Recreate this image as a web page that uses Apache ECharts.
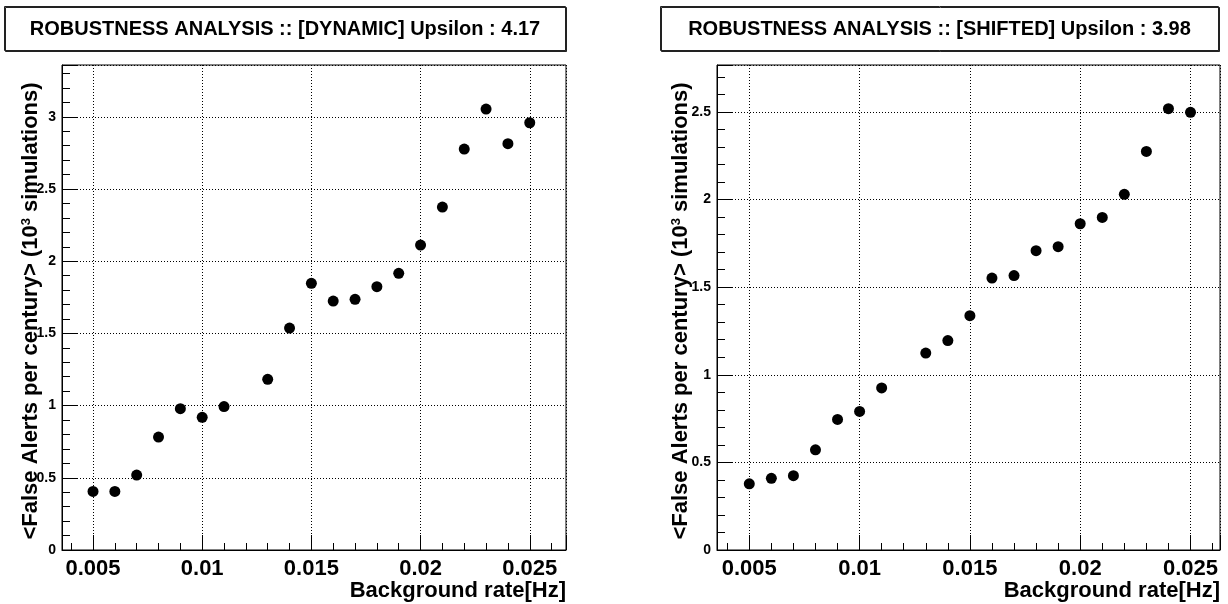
<!DOCTYPE html>
<html>
<head>
<meta charset="utf-8">
<script src="https://cdn.jsdelivr.net/npm/echarts@6/dist/echarts.min.js"></script>
<style>
html,body{margin:0;padding:0;background:#fff;}
#chart{width:1228px;height:604px;}
</style>
</head>
<body>
<div id="chart"></div>
<script>
// ---- data ----
const titles = [
  'ROBUSTNESS ANALYSIS :: [DYNAMIC] Upsilon : 4.17',
  'ROBUSTNESS ANALYSIS :: [SHIFTED] Upsilon : 3.98'
];
const xTitle = 'Background rate[Hz]';
const yTitle = '<False Alerts per century> (10{sup|3} simulations)';
const bgRate = [0.005, 0.006, 0.007, 0.008, 0.009, 0.010, 0.011, 0.013, 0.014, 0.015,
                0.016, 0.017, 0.018, 0.019, 0.020, 0.021, 0.022, 0.023, 0.024, 0.025];
const dynamicAlerts = [0.406, 0.406, 0.519, 0.782, 0.979, 0.919, 0.993, 1.182, 1.537, 1.847,
                       1.724, 1.736, 1.824, 1.916, 2.112, 2.375, 2.777, 3.054, 2.814, 2.959];
const shiftedAlerts = [0.378, 0.409, 0.424, 0.572, 0.745, 0.791, 0.925, 1.124, 1.195, 1.337,
                       1.552, 1.566, 1.708, 1.731, 1.862, 1.898, 2.030, 2.275, 2.519, 2.498];
const xRanges = [[0.00358, 0.02666], [0.003536, 0.026337]];
const yRanges = [[0, 3.359], [0, 2.768]];

// ---- chart ----
const FONT = '"Liberation Sans", Arial, Helvetica, sans-serif';
const chart = echarts.init(document.getElementById('chart'), null, {renderer: 'canvas'});

function pairs(xs, ys) { return xs.map((x, i) => [x, ys[i]]); }

const grids = [
  {left: 62, top: 65, width: 504, height: 485},
  {left: 717, top: 65, width: 503, height: 485}
];
const yNameGaps = [20, 25];

function xAxis(i) {
  return {
    type: 'value', gridIndex: i,
    min: xRanges[i][0], max: xRanges[i][1],
    minInterval: 0.005, maxInterval: 0.005,
    axisLine: {show: true, onZero: false, lineStyle: {color: '#000', width: 1}},
    axisTick: {show: true, inside: true, length: 15, lineStyle: {color: '#000'}},
    minorTick: {show: true, splitNumber: 5, length: 7, lineStyle: {color: '#000'}},
    axisLabel: {
      show: true, showMinLabel: false, showMaxLabel: false,
      color: '#000', fontFamily: FONT, fontWeight: 'bold', fontSize: 22, margin: 8
    },
    splitLine: {show: true, lineStyle: {color: '#000', width: 1, type: [1, 2]}}
  };
}

function yAxis(i) {
  return {
    type: 'value', gridIndex: i,
    min: yRanges[i][0], max: yRanges[i][1], interval: 0.5,
    axisLine: {show: true, lineStyle: {color: '#000', width: 1}},
    axisTick: {show: true, inside: true, length: 15, lineStyle: {color: '#000'}},
    minorTick: {show: true, splitNumber: 5, length: 8, lineStyle: {color: '#000'}},
    axisLabel: {
      show: true, showMaxLabel: false,
      color: '#000', fontFamily: FONT, fontWeight: 'bold', fontSize: 14, margin: 6
    },
    splitLine: {show: true, lineStyle: {color: '#000', width: 1, type: [1, 2]}},
    name: yTitle, nameLocation: 'middle', nameRotate: 90, nameGap: yNameGaps[i],
    nameMoveOverlap: false,
    nameTextStyle: {
      color: '#000', fontFamily: FONT, fontWeight: 'bold', fontSize: 22,
      padding: [0, 7, 0, 0],
      rich: {sup: {fontSize: 13, fontFamily: FONT, fontWeight: 'bold', color: '#000', verticalAlign: 'top'}}
    }
  };
}

const boxes = [
  {x: 4.5, y: 6.5, w: 561, h: 44},
  {x: 660.5, y: 6.5, w: 558, h: 44}
];
const graphic = [];
boxes.forEach((b, i) => {
  graphic.push({
    type: 'rect', z: 10,
    shape: {x: b.x, y: b.y, width: b.w, height: b.h},
    style: {fill: '#fff', stroke: '#222', lineWidth: 1,
            shadowColor: '#222', shadowOffsetX: 1, shadowOffsetY: 1, shadowBlur: 0}
  });
  graphic.push({
    type: 'text', z: 11,
    x: b.x + b.w / 2, y: b.y + b.h / 2 + 1,
    style: {text: titles[i], fill: '#000', font: 'bold 20px ' + FONT,
            align: 'center', verticalAlign: 'middle'}
  });
});
// x-axis titles, right-aligned at the right end of each frame
grids.forEach(g => {
  graphic.push({
    type: 'text', z: 11,
    x: g.left + g.width, y: g.top + g.height + 41,
    style: {text: xTitle, fill: '#000', font: 'bold 22px ' + FONT,
            align: 'right', verticalAlign: 'middle'}
  });
});

const option = {
  backgroundColor: '#fff',
  animation: false,
  grid: grids.map(g => Object.assign({show: true, borderColor: '#000', borderWidth: 1,
                                      backgroundColor: 'transparent', outerBoundsMode: 'none',
                                      containLabel: false}, g)),
  xAxis: [xAxis(0), xAxis(1)],
  yAxis: [yAxis(0), yAxis(1)],
  graphic: graphic,
  series: [
    {type: 'scatter', xAxisIndex: 0, yAxisIndex: 0, symbol: 'circle', symbolSize: 11,
     itemStyle: {color: '#000', opacity: 1}, data: pairs(bgRate, dynamicAlerts)},
    {type: 'scatter', xAxisIndex: 1, yAxisIndex: 1, symbol: 'circle', symbolSize: 11,
     itemStyle: {color: '#000', opacity: 1}, data: pairs(bgRate, shiftedAlerts)}
  ]
};
chart.setOption(option);
</script>
</body>
</html>
